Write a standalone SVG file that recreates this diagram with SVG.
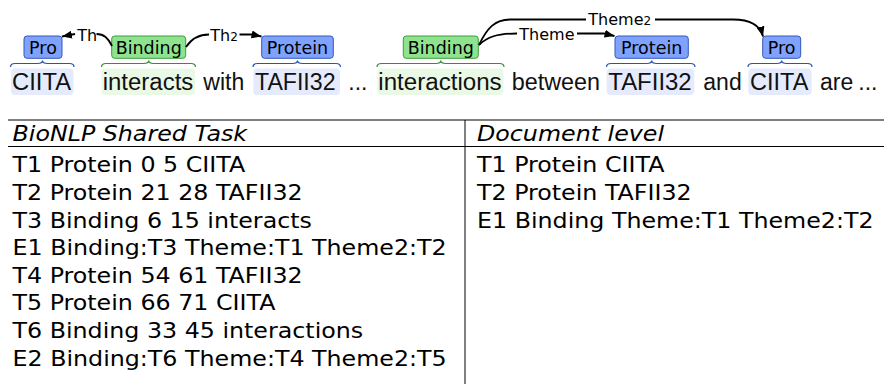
<svg xmlns="http://www.w3.org/2000/svg" width="884" height="384" viewBox="0 0 884 384">
<style>
.lbl{font-family:"DejaVu Sans",sans-serif;font-size:17.5px;text-anchor:middle;fill:#000}
.elbl{font-family:"DejaVu Sans",sans-serif;font-size:16px;fill:#000}
.sub{font-size:12px}
.word{font-family:"Liberation Sans",Arial,sans-serif;font-size:23px;fill:#111}
.tbl{font-family:"DejaVu Sans",sans-serif;font-size:21.5px;fill:#000}
.hdr{font-style:italic}
.prot rect{fill:#7fa2ff;stroke:#3558b8;stroke-width:1}
.bind rect{fill:#8fe38f;stroke:#3d9c3d;stroke-width:1}
.hlp{fill:#e5ebfc}
.hlb{fill:#eaf9e6}
.bp{fill:none;stroke:#2d52ad;stroke-width:1.2}
.bb{fill:none;stroke:#3a8a3a;stroke-width:1.2}
.conn path{fill:none;stroke:#000;stroke-width:1.8}
.rule{stroke:#000;stroke-width:1}
</style>
<defs>
<marker id="ah" markerUnits="userSpaceOnUse" markerWidth="11" markerHeight="9" refX="10" refY="4" orient="auto">
<path d="M0,0 L10,4 L0,8 z" fill="#000"/>
</marker>
</defs>

<!-- highlights under words -->
<g id="highlights">
<rect class="hlp" x="11" y="68.5" width="62.5" height="26.5" rx="4"/>
<rect class="hlb" x="101.5" y="68.5" width="93.5" height="26.5" rx="4"/>
<rect class="hlp" x="253.3" y="68.5" width="86.7" height="26.5" rx="4"/>
<rect class="hlb" x="377.3" y="68.5" width="126" height="26.5" rx="4"/>
<rect class="hlp" x="606.7" y="68.5" width="87.6" height="26.5" rx="4"/>
<rect class="hlp" x="748.3" y="68.5" width="63.4" height="26.5" rx="4"/>
</g>

<!-- sentence -->
<g id="sentence">
<text class="word" x="12" y="89.5" textLength="59" lengthAdjust="spacingAndGlyphs">CIITA</text>
<text class="word" x="102.7" y="89.5" textLength="90.6" lengthAdjust="spacingAndGlyphs">interacts</text>
<text class="word" x="203.3" y="89.5">with</text>
<text class="word" x="255" y="89.5" textLength="80.5" lengthAdjust="spacingAndGlyphs">TAFII32</text>
<text class="word" x="348.3" y="89.5">...</text>
<text class="word" x="378.3" y="89.5" textLength="123.4" lengthAdjust="spacingAndGlyphs">interactions</text>
<text class="word" x="511.7" y="89.5" textLength="88.3" lengthAdjust="spacingAndGlyphs">between</text>
<text class="word" x="608.3" y="89.5" textLength="83.4" lengthAdjust="spacingAndGlyphs">TAFII32</text>
<text class="word" x="703.3" y="89.5">and</text>
<text class="word" x="750" y="89.5" textLength="58.3" lengthAdjust="spacingAndGlyphs">CIITA</text>
<text class="word" x="820" y="89.5">are</text>
<text class="word" x="858.3" y="89.5">...</text>
</g>

<!-- braces -->
<g id="braces">
<path class="bp" d="M10.5,67 Q10.5,63.5 15,63.5 L37.5,63.5 Q42.5,63.5 42.5,60.5 Q42.5,63.5 47.5,63.5 L69.5,63.5 Q74,63.5 74,67"/>
<path class="bb" d="M101.5,67 Q101.5,63.5 106,63.5 L143.7,63.5 Q148.7,63.5 148.7,60.5 Q148.7,63.5 153.7,63.5 L191,63.5 Q195.5,63.5 195.5,67"/>
<path class="bp" d="M253,67 Q253,63.5 257.5,63.5 L292.5,63.5 Q297.5,63.5 297.5,60.5 Q297.5,63.5 302.5,63.5 L336,63.5 Q340.5,63.5 340.5,67"/>
<path class="bb" d="M377,67 Q377,63.5 381.5,63.5 L435.8,63.5 Q440.8,63.5 440.8,60.5 Q440.8,63.5 445.8,63.5 L499.5,63.5 Q504,63.5 504,67"/>
<path class="bp" d="M606.5,67 Q606.5,63.5 611,63.5 L646.7,63.5 Q651.7,63.5 651.7,60.5 Q651.7,63.5 656.7,63.5 L690.5,63.5 Q695,63.5 695,67"/>
<path class="bp" d="M748,67 Q748,63.5 752.5,63.5 L776.7,63.5 Q781.7,63.5 781.7,60.5 Q781.7,63.5 786.7,63.5 L807.5,63.5 Q812,63.5 812,67"/>
</g>

<!-- label nodes -->
<g id="T1" class="prot"><rect x="24" y="36" width="38" height="22.3" rx="3"/><text class="lbl" x="43" y="53.5">Pro</text></g>
<g id="T3" class="bind"><rect x="111.7" y="36" width="74" height="22.3" rx="3"/><text class="lbl" x="148.7" y="53.5">Binding</text></g>
<g id="T2" class="prot"><rect x="261.7" y="36" width="71.6" height="22.3" rx="3"/><text class="lbl" x="297.5" y="53.5">Protein</text></g>
<g id="T6" class="bind"><rect x="403.3" y="36" width="75" height="22.3" rx="3"/><text class="lbl" x="440.8" y="53.5">Binding</text></g>
<g id="T4" class="prot"><rect x="615" y="36" width="73.3" height="22.3" rx="3"/><text class="lbl" x="651.7" y="53.5">Protein</text></g>
<g id="T5" class="prot"><rect x="762.7" y="36" width="38" height="22.3" rx="3"/><text class="lbl" x="781.7" y="53.5">Pro</text></g>

<!-- connectors -->
<g id="connectors" class="conn">
<g id="e1-theme">
<path d="M112,46 C108,38 104,34 96.5,34"/>
<path d="M75,34 L62,36.5" marker-end="url(#ah)"/>
<text class="elbl" x="77.3" y="40.5">Th</text>
</g>
<g id="e1-theme2">
<path d="M186,47 C192,38 200,34.5 209,34.5"/>
<path d="M239.5,34.5 L252,34.5 L261.5,36.5" marker-end="url(#ah)"/>
<text class="elbl" x="210.3" y="40.5">Th<tspan class="sub">2</tspan></text>
</g>
<g id="e2-theme">
<path d="M479,45 C487,37 497,33.5 517,33.5"/>
<path d="M577,33.5 L604,33.5 L614.5,36" marker-end="url(#ah)"/>
<text class="elbl" x="519.3" y="39.5">Theme</text>
</g>
<g id="e2-theme2">
<path d="M479,45 C487,28 495,19.5 510,19.5 L586,19.5"/>
<path d="M655,19.5 L733,19.5 C750,19.5 760,25 763,36.5" marker-end="url(#ah)"/>
<text class="elbl" x="588.3" y="25.3">Theme<tspan class="sub">2</tspan></text>
</g>
</g>

<!-- table -->
<g id="table">
<line class="rule" x1="8" y1="120" x2="884" y2="120"/>
<line class="rule" x1="8" y1="146.5" x2="884" y2="146.5"/>
<line class="rule" x1="465" y1="120" x2="465" y2="384"/>
<g transform="translate(12.5,0) scale(1.105,1)">
<text class="tbl hdr" x="0" y="141.5">BioNLP Shared Task</text>
<text class="tbl" x="0" y="172.5">T1 Protein 0 5 CIITA</text>
<text class="tbl" x="0" y="200.1">T2 Protein 21 28 TAFII32</text>
<text class="tbl" x="0" y="227.7">T3 Binding 6 15 interacts</text>
<text class="tbl" x="0" y="255.3">E1 Binding:T3 Theme:T1 Theme2:T2</text>
<text class="tbl" x="0" y="282.9">T4 Protein 54 61 TAFII32</text>
<text class="tbl" x="0" y="310.5">T5 Protein 66 71 CIITA</text>
<text class="tbl" x="0" y="338.1">T6 Binding 33 45 interactions</text>
<text class="tbl" x="0" y="365.7">E2 Binding:T6 Theme:T4 Theme2:T5</text>
</g>
<g transform="translate(477,0) scale(1.105,1)">
<text class="tbl hdr" x="0" y="141.5">Document level</text>
<text class="tbl" x="0" y="172.5">T1 Protein CIITA</text>
<text class="tbl" x="0" y="200.1">T2 Protein TAFII32</text>
<text class="tbl" x="0" y="227.7">E1 Binding Theme:T1 Theme2:T2</text>
</g>
</g>
</svg>
